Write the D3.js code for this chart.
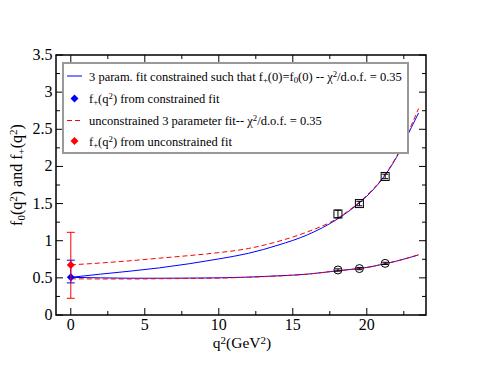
<!DOCTYPE html>
<html><head><meta charset="utf-8">
<script src="https://cdn.jsdelivr.net/npm/d3@7"></script>
<style>body{margin:0;background:#fff}svg{display:block}</style>
</head><body>
<script>
// ---- data ----
const curveQ2 = [0, 2, 4, 6, 8, 10, 12, 14, 16, 18, 19, 20, 21, 22, 23, 23.5];
const fPlusConstrained   = [0.507, 0.55, 0.59, 0.635, 0.69, 0.755, 0.83, 0.94, 1.08, 1.29, 1.43, 1.60, 1.82, 2.12, 2.52, 2.72];
const fPlusUnconstrained = [0.675, 0.70, 0.73, 0.765, 0.80, 0.84, 0.895, 0.99, 1.12, 1.30, 1.44, 1.61, 1.83, 2.13, 2.55, 2.78];
const fZeroConstrained   = [0.507, 0.50, 0.495, 0.495, 0.497, 0.50, 0.51, 0.527, 0.55, 0.595, 0.615, 0.64, 0.68, 0.725, 0.78, 0.81];
const fZeroUnconstrained = [0.488, 0.485, 0.485, 0.488, 0.492, 0.497, 0.508, 0.525, 0.55, 0.595, 0.615, 0.64, 0.68, 0.725, 0.78, 0.81];

const latticeQ2 = [18.05, 19.5, 21.24];
const fPlusLattice = [1.36, 1.50, 1.865];
const fPlusErr = [0.05, 0.03, 0.03];
const fZeroLattice = [0.606, 0.625, 0.695];
const fZeroErr = [0.015, 0.015, 0.015];

const extrapQ2 = [0, 0];
const extrapVal = [0.507, 0.672];
const extrapLow = [0.432, 0.225];
const extrapHigh = [0.738, 1.113];
const extrapColor = ["#0000ff", "#ff0000"];

const xTicks = [0, 5, 10, 15, 20];
const yTicks = [0, 0.5, 1, 1.5, 2, 2.5, 3, 3.5];
const yTickLabels = ["0", "0.5", "1", "1.5", "2", "2.5", "3", "3.5"];

// ---- drawing ----
const FONT = "Liberation Serif";
const W = 480, H = 371;
const svg = d3.select("body").append("svg").attr("width", W).attr("height", H);
const L = 56, R = 426, T = 55, B = 315;
const x = d3.scaleLinear().domain([-1, 24]).range([L, R]);
const y = d3.scaleLinear().domain([0, 3.5]).range([B, T]);

// ticks (inward) on all sides
const g = svg.append("g").attr("stroke", "#000").attr("stroke-width", 1);
const xMinor = d3.range(0, 24.01, 2.5);
const yMinor = d3.range(0, 3.51, 0.25);
xMinor.forEach(v => {
  const major = Math.abs(v / 5 - Math.round(v / 5)) < 1e-6;
  const len = major ? 7 : 4;
  g.append("line").attr("x1", x(v)).attr("x2", x(v)).attr("y1", B).attr("y2", B - len);
  g.append("line").attr("x1", x(v)).attr("x2", x(v)).attr("y1", T).attr("y2", T + len);
});
yMinor.forEach(v => {
  const major = Math.abs(v / 0.5 - Math.round(v / 0.5)) < 1e-6;
  const len = major ? 7 : 4;
  g.append("line").attr("x1", L).attr("x2", L + len).attr("y1", y(v)).attr("y2", y(v));
  g.append("line").attr("x1", R).attr("x2", R - len).attr("y1", y(v)).attr("y2", y(v));
});

// tick labels
xTicks.forEach(v => {
  svg.append("text").attr("x", x(v)).attr("y", B + 15).attr("text-anchor", "middle")
    .style("font-family", FONT).attr("font-size", 16).text(v);
});
yTicks.forEach((v, i) => {
  svg.append("text").attr("x", L - 3.5).attr("y", y(v) + 5).attr("text-anchor", "end")
    .style("font-family", FONT).attr("font-size", 16).text(yTickLabels[i]);
});

// curves
const line = d3.line().curve(d3.curveMonotoneX).x(d => x(d[0])).y(d => y(d[1]));
const plot = svg.append("g");
function drawCurve(vals, color, dash) {
  plot.append("path").datum(curveQ2.map((q, i) => [q, vals[i]]))
    .attr("d", line).attr("fill", "none").attr("stroke", color).attr("stroke-width", 1)
    .attr("stroke-dasharray", dash || null);
}
drawCurve(fPlusConstrained, "#0000ff");
drawCurve(fZeroConstrained, "#0000ff");
drawCurve(fPlusUnconstrained, "#ff0000", "5,3");
drawCurve(fZeroUnconstrained, "#ff0000", "5,3");

// lattice points with error bars
function errBar(q, v, e, color, cw) {
  const gg = plot.append("g").attr("stroke", color).attr("stroke-width", 1);
  gg.append("line").attr("x1", x(q)).attr("x2", x(q)).attr("y1", y(v - e)).attr("y2", y(v + e));
  gg.append("line").attr("x1", x(q) - cw).attr("x2", x(q) + cw).attr("y1", y(v - e)).attr("y2", y(v - e));
  gg.append("line").attr("x1", x(q) - cw).attr("x2", x(q) + cw).attr("y1", y(v + e)).attr("y2", y(v + e));
}
latticeQ2.forEach((q, i) => {
  errBar(q, fPlusLattice[i], fPlusErr[i], "#000", 3);
  plot.append("rect").attr("x", x(q) - 4).attr("y", y(fPlusLattice[i]) - 4).attr("width", 8).attr("height", 8)
    .attr("fill", "none").attr("stroke", "#000").attr("stroke-width", 1);
  errBar(q, fZeroLattice[i], fZeroErr[i], "#000", 3);
  plot.append("circle").attr("cx", x(q)).attr("cy", y(fZeroLattice[i])).attr("r", 4)
    .attr("fill", "none").attr("stroke", "#000").attr("stroke-width", 1);
});

// extrapolated f+(0)
extrapQ2.forEach((q, i) => {
  const gg = plot.append("g").attr("stroke", extrapColor[i]).attr("stroke-width", 1);
  gg.append("line").attr("x1", x(q)).attr("x2", x(q)).attr("y1", y(extrapLow[i])).attr("y2", y(extrapHigh[i]));
  [extrapLow[i], extrapHigh[i]].forEach(v => gg.append("line").attr("x1", x(q) - 4).attr("x2", x(q) + 4).attr("y1", y(v)).attr("y2", y(v)));
  plot.append("path").attr("d", d3.symbol().type(d3.symbolSquare).size(32)())
    .attr("transform", `translate(${x(q)},${y(extrapVal[i])}) rotate(45)`).attr("fill", extrapColor[i]);
});

// frame
svg.append("rect").attr("x", L).attr("y", T).attr("width", R - L).attr("height", B - T)
  .attr("fill", "none").attr("stroke", "#000").attr("stroke-width", 1.5);

// legend
const lg = svg.append("g");
lg.append("rect").attr("x", 63).attr("y", 63).attr("width", 345).attr("height", 90)
  .attr("fill", "#fff").attr("stroke", "#999").attr("stroke-width", 2);
const rowY = [76, 98.5, 120.5, 141];
const fs = 12.5;
function addText(yy, parts) {
  const t = lg.append("text").attr("x", 89).attr("y", yy + 4.5).attr("font-size", fs).style("font-family", FONT);
  parts.forEach(p => {
    const s = t.append("tspan").text(p[0]).style("font-family", FONT);
    if (p[1] === "sub") s.attr("baseline-shift", "-25%").attr("font-size", fs * 0.7);
    if (p[1] === "sup") s.attr("baseline-shift", "45%").attr("font-size", fs * 0.7);
  });
}
lg.append("line").attr("x1", 67).attr("x2", 82).attr("y1", rowY[0]).attr("y2", rowY[0]).attr("stroke", "#0000ff");
lg.append("line").attr("x1", 67).attr("x2", 82).attr("y1", rowY[2]).attr("y2", rowY[2]).attr("stroke", "#ff0000").attr("stroke-dasharray", "5,3");
[[rowY[1], "#0000ff"], [rowY[3], "#ff0000"]].forEach(d => {
  lg.append("path").attr("d", d3.symbol().type(d3.symbolSquare).size(32)())
    .attr("transform", `translate(74.5,${d[0]}) rotate(45)`).attr("fill", d[1]);
});
addText(rowY[0], [["3 param. fit constrained such that f"], ["+", "sub"], ["(0)=f"], ["0", "sub"], ["(0) -- \u03c7"], ["2", "sup"], ["/d.o.f. = 0.35"]]);
addText(rowY[1], [["f"], ["+", "sub"], ["(q"], ["2", "sup"], [") from constrained fit"]]);
addText(rowY[2], [["unconstrained 3 parameter fit-- \u03c7"], ["2", "sup"], ["/d.o.f. = 0.35"]]);
addText(rowY[3], [["f"], ["+", "sub"], ["(q"], ["2", "sup"], [") from unconstrained fit"]]);

// axis titles
const xt = svg.append("text").attr("x", 242).attr("y", 348).attr("text-anchor", "middle").attr("font-size", 15.5).style("font-family", FONT);
[["q"], ["2", "sup"], ["(GeV"], ["2", "sup"], [")"]].forEach(p => {
  const s = xt.append("tspan").text(p[0]).style("font-family", FONT);
  if (p[1] === "sup") s.attr("baseline-shift", "40%").attr("font-size", 11);
});
const yt = svg.append("text").attr("transform", "translate(22,175) rotate(-90)").attr("text-anchor", "middle").attr("font-size", 16).style("font-family", FONT);
[["f"], ["0", "sub"], ["(q"], ["2", "sup"], [") and f"], ["+", "sub"], ["(q"], ["2", "sup"], [")"]].forEach(p => {
  const s = yt.append("tspan").text(p[0]).style("font-family", FONT);
  if (p[1] === "sup") s.attr("baseline-shift", "45%").attr("font-size", 11);
  if (p[1] === "sub") s.attr("baseline-shift", "-25%").attr("font-size", 11);
});
</script>
</body></html>
